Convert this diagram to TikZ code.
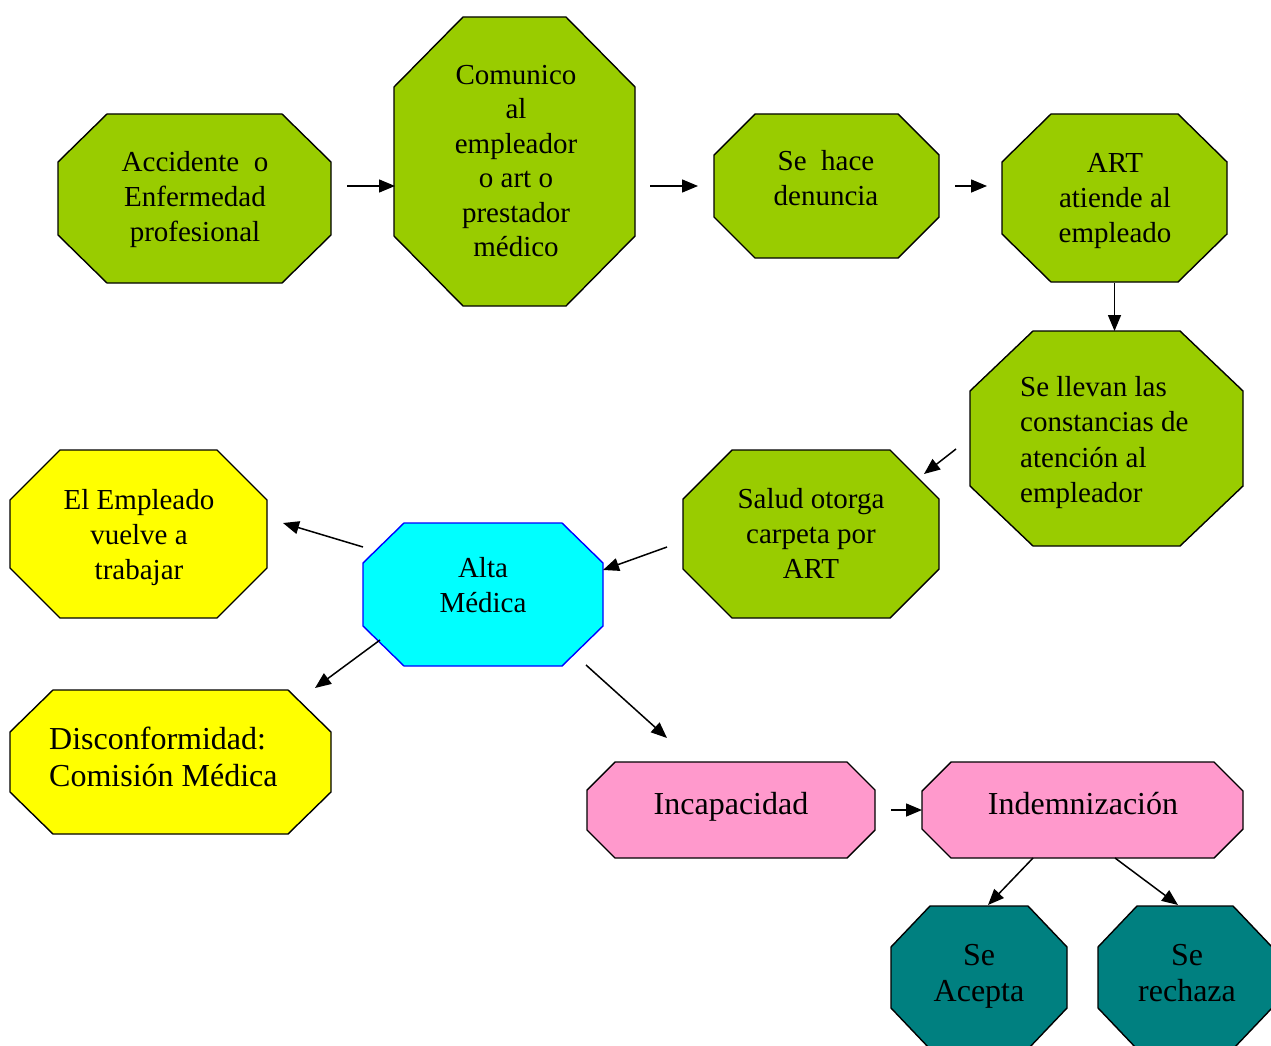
\documentclass[tikz,border=0pt]{standalone}
\usepackage{fontspec}
\setmainfont{Liberation Serif}
\usetikzlibrary{arrows.meta}
\definecolor{cgreen}{HTML}{99CC00}
\definecolor{cyellow}{HTML}{FFFF00}
\definecolor{ccyan}{HTML}{00FFFF}
\definecolor{cblue}{HTML}{0000FF}
\definecolor{cpink}{HTML}{FF99CC}
\definecolor{cteal}{HTML}{008080}
\tikzset{
  shapebox/.style={rectangle, inner sep=0pt, outer sep=0pt},
  octline/.style={line width=1.4pt, draw=black, line join=miter},
  greenbox/.style={fill=cgreen},
  yellowbox/.style={fill=cyellow},
  cyanbox/.style={fill=ccyan, draw=cblue},
  pinkbox/.style={fill=cpink},
  tealbox/.style={fill=cteal},
  txt/.style={inner sep=0pt, align=center, font=\fontsize{29}{35}\selectfont},
  txtl/.style={inner sep=0pt, align=left, anchor=west, font=\fontsize{29}{35.5}\selectfont},
  bigtxt/.style={inner sep=0pt, align=center, font=\fontsize{32}{37}\selectfont},
  arr/.style={-{Triangle[length=16pt,width=13pt]}, line width=1.5pt},
}
\newcommand\octbox[8]{%
  \node[shapebox, minimum width={(#4-#2)*1pt}, minimum height={(#5-#3)*1pt}] (#1) at ({(#2+#4)/2},{(#3+#5)/2}) {};
  \draw[octline,#8] (#2+#6,#3) -- (#4-#6,#3) -- (#4,#3+#7) -- (#4,#5-#7) -- (#4-#6,#5) -- (#2+#6,#5) -- (#2,#5-#7) -- (#2,#3+#7) -- cycle;
}
\begin{document}
\begin{tikzpicture}[x=1pt,y=-1pt]
\useasboundingbox (0,0) rectangle (1271,1046);
\clip (0,0) rectangle (1271,1046);
\fill[white] (0,0) rectangle (1271,1046);

% shapes
\octbox{a1}{58}{114}{331}{283}{49}{48}{greenbox}
\octbox{a2}{394}{17}{635}{306}{69}{70}{greenbox}
\octbox{a3}{714}{114}{939}{258}{41}{41}{greenbox}
\octbox{a4}{1002}{114}{1227}{282}{49}{48}{greenbox}
\octbox{a5}{970}{331}{1243}{546}{63}{60}{greenbox}
\octbox{a6}{683}{450}{939}{618}{49}{49}{greenbox}
\octbox{a7}{363}{523}{603}{666}{41}{40}{cyanbox}
\octbox{a8}{10}{450}{267}{618}{50}{50}{yellowbox}
\octbox{a9}{10}{690}{331}{834}{43}{42}{yellowbox}
\octbox{a10}{587}{762}{875}{858}{28}{28}{pinkbox}
\octbox{a11}{922}{762}{1243}{858}{29}{29}{pinkbox}
\octbox{a12}{891}{906}{1067}{1049}{39}{41}{tealbox}
\octbox{a13}{1098}{906}{1272}{1049}{39}{41}{tealbox}

% texts
\node[txt] (t1) at (195,200) {Accidente~~o\\Enfermedad\\profesional};
\node[txt, font=\fontsize{29}{34.4}\selectfont] (t2) at (516,161) {Comunico\\al\\empleador\\o art o\\prestador\\médico};
\node[txt] (t3) at (826,178) {Se~~hace\\denuncia};
\node[txt] (t4) at (1115,201) {ART\\atiende al\\empleado};
\node[txtl] (t5) at (1020,442.5) {Se llevan las\\constancias de\\atención al\\empleador};
\node[txt] (t6) at (811,533) {Salud otorga\\carpeta por\\ART};
\node[txt] (t7) at (483,585) {Alta\\Médica};
\node[txt] (t8) at (139,538) {El Empleado\\vuelve a\\trabajar};
\node[bigtxt, align=left, anchor=west] (t9) at (49,757) {Disconformidad:\\Comisión Médica};
\node[bigtxt] (t10) at (731,807) {Incapacidad};
\node[bigtxt] (t11) at (1083,804) {Indemnización};
\node[bigtxt, font=\fontsize{32}{36}\selectfont] (t12) at (979,976) {Se\\Acepta};
\node[bigtxt, font=\fontsize{32}{36}\selectfont] (t13) at (1187,973) {Se\\rechaza};

% connectors
\draw[arr] ([shift={(16,-12.5)}]a1.east) -- ([shift={(1,24.5)}]a2.west);
\draw[arr] ([shift={(15,24.5)}]a2.east) -- ([shift={(-16,0)}]a3.west);
\draw[arr] ([shift={(16,0)}]a3.east) -- ([shift={(-15,-12)}]a4.west);
\draw[arr] ([shift={(0,1)}]a4.south) -- (a4.south |- a5.north);
\draw[arr] ([shift={(-14,10.5)}]a5.west) -- ([shift={(-15,24)}]a6.north east);
\draw[arr] ([shift={(-16,13)}]a6.west) -- ([shift={(0,-24.5)}]a7.east);
\draw[arr] ([shift={(0,-47.5)}]a7.west) -- ([shift={(16,-11)}]a8.east);
\draw[arr] ([shift={(17,-26)}]a7.south west) -- ([shift={(-16,-2)}]a9.north east);
\draw[arr] ([shift={(-17,-1)}]a7.south east) -- ([shift={(80,-24)}]a10.north west);
\draw[arr] ([shift={(16,0)}]a10.east) -- (a11.west);
\draw[arr] ([shift={(-49.5,0)}]a11.south) -- ([shift={(9,-1)}]a12.north);
\draw[arr] ([shift={(32.5,0)}]a11.south) -- ([shift={(-7,-1)}]a13.north);
\end{tikzpicture}
\end{document}
